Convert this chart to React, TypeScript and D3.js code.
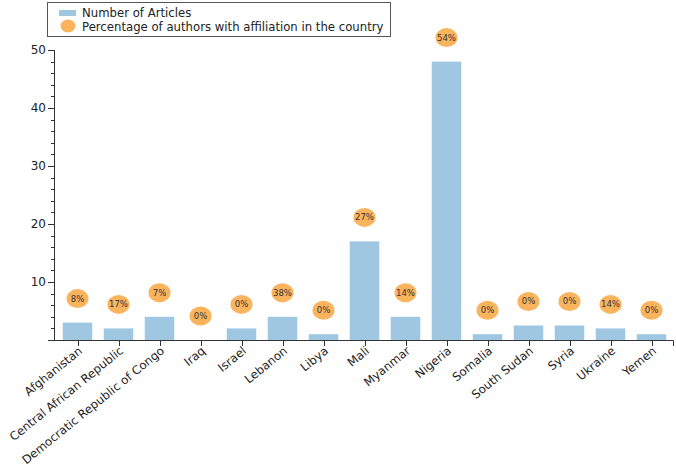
import React, { useEffect, useRef } from "react";
import * as d3 from "d3";

const countries = [
  "Afghanistan", "Central African Republic", "Democratic Republic of Congo", "Iraq", "Israel",
  "Lebanon", "Libya", "Mali", "Myanmar", "Nigeria", "Somalia", "South Sudan", "Syria", "Ukraine", "Yemen",
];
const articles = [3, 2, 4, 0, 2, 4, 1, 17, 4, 48, 1, 2.5, 2.5, 2, 1];
const percentLabels = ["8%", "17%", "7%", "0%", "0%", "38%", "0%", "27%", "14%", "54%", "0%", "0%", "0%", "14%", "0%"];
const yTicks = [10, 20, 30, 40, 50];
const legendLabels = ["Number of Articles", "Percentage of authors with affiliation in the country"];

const W = 676, H = 467;
const FONT = "DejaVu Sans";
const BAR = "#9fc7e1";
const DOT = "#fbb45e";
const AXIS = "#333";

export default function App() {
  const ref = useRef<SVGSVGElement>(null);
  useEffect(() => {
    const svg = d3.select(ref.current);
    svg.selectAll("*").remove();
    const x = d3.scaleBand<string>().domain(countries).range([57, 672]).paddingInner(0.28).paddingOuter(0.14);
    const y = d3.scaleLinear().domain([0, 50]).range([340, 50]);

    // bars
    svg.append("g").selectAll("rect").data(countries).join("rect")
      .attr("x", (d) => x(d)!)
      .attr("width", x.bandwidth())
      .attr("y", (d, i) => y(articles[i]))
      .attr("height", (d, i) => 340 - y(articles[i]))
      .attr("fill", BAR);

    // y axis
    const ya = svg.append("g").attr("stroke", AXIS).attr("fill", "none");
    ya.append("line").attr("x1", 54.5).attr("x2", 54.5).attr("y1", y(50)).attr("y2", y(0));
    d3.range(0, 51, 2).forEach((v) => {
      const major = v % 10 === 0;
      ya.append("line").attr("x1", major ? 48 : 51).attr("x2", 54.5)
        .attr("y1", Math.round(y(v)) + 0.5).attr("y2", Math.round(y(v)) + 0.5);
    });
    svg.append("g").selectAll("text").data(yTicks).join("text")
      .attr("x", 46).attr("y", (d) => y(d)).attr("dy", "0.35em")
      .attr("text-anchor", "end").attr("font-family", FONT).attr("font-size", 12).attr("fill", "#222")
      .text((d) => d);

    // x axis
    const xa = svg.append("g").attr("stroke", AXIS).attr("fill", "none");
    xa.append("line").attr("x1", 54).attr("x2", 673.5).attr("y1", 340.5).attr("y2", 340.5);
    xa.append("line").attr("x1", 673.5).attr("x2", 673.5).attr("y1", 340.5).attr("y2", 346);
    countries.forEach((c) => {
      const cx = Math.round(x(c)! + x.bandwidth() / 2) + 0.5;
      xa.append("line").attr("x1", cx).attr("x2", cx).attr("y1", 340.5).attr("y2", 346);
    });
    svg.append("g").selectAll("text").data(countries).join("text")
      .attr("transform", (d) => `translate(${x(d)! + x.bandwidth() / 2 + 3},${349}) rotate(-39)`)
      .attr("text-anchor", "end").attr("dy", "0.35em")
      .attr("font-family", FONT).attr("font-size", 11.8).attr("fill", "#222")
      .text((d) => d);

    // percentage dots
    const dots = svg.append("g");
    countries.forEach((c, i) => {
      const cx = x(c)! + x.bandwidth() / 2;
      const cy = y(articles[i]) - 24;
      dots.append("ellipse").attr("cx", cx).attr("cy", cy).attr("rx", 11).attr("ry", 9.5).attr("fill", DOT);
      dots.append("text").attr("x", cx).attr("y", cy).attr("dy", "0.35em").attr("text-anchor", "middle")
        .attr("font-family", FONT).attr("font-size", 8.5).attr("fill", "#333").text(percentLabels[i]);
    });

    // legend
    const lg = svg.append("g");
    lg.append("rect").attr("x", 47.5).attr("y", 2.5).attr("width", 343).attr("height", 34)
      .attr("fill", "#fff").attr("stroke", "#555");
    lg.append("rect").attr("x", 59).attr("y", 10).attr("width", 17).attr("height", 6).attr("fill", BAR);
    lg.append("ellipse").attr("cx", 68).attr("cy", 26).attr("rx", 7.5).attr("ry", 6.5).attr("fill", DOT);
    legendLabels.forEach((t, i) => {
      lg.append("text").attr("x", 82).attr("y", 17 + i * 14).attr("font-family", FONT).attr("font-size", 11.7)
        .attr("fill", "#222").text(t);
    });
  }, []);
  return <svg ref={ref} width={W} height={H} style={{ display: "block", position: "absolute", left: 0, top: 0 }} />;
}
